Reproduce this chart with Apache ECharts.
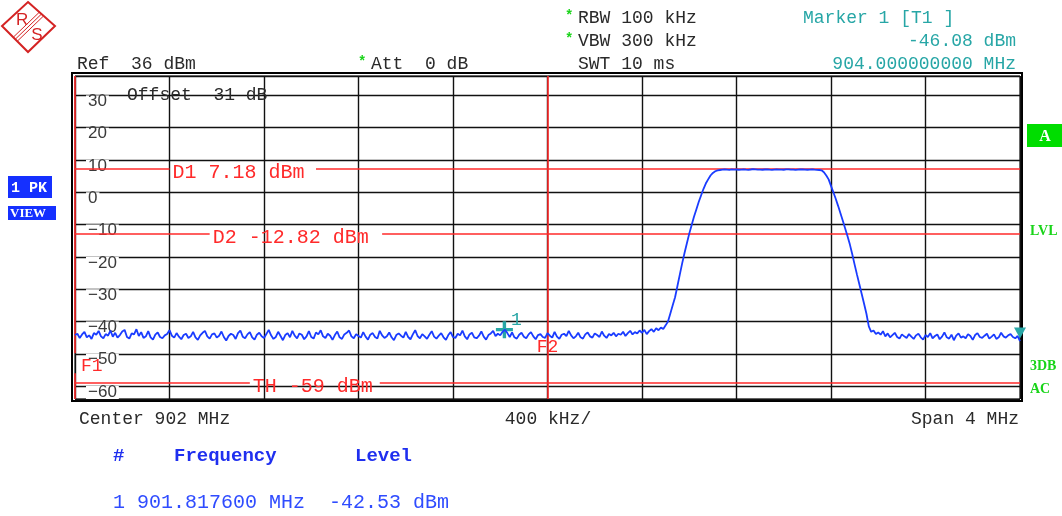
<!DOCTYPE html>
<html><head><meta charset="utf-8">
<script src="https://cdn.jsdelivr.net/npm/echarts@6/dist/echarts.min.js"></script>
<style>html,body{margin:0;padding:0;background:#fff}#c{width:1062px;height:516px}</style>
</head><body><div id="c"></div>
<script>
// ---- sweep grid (900 MHz .. 904 MHz, 401 points) ----
const startFreq = 900;
const stepMHz = 0.01;
// ---- trace levels in dBm ----
const noiseLeft = [
-44.2,-43.8,-45.1,-44.0,-43.2,-44.9,-44.3,-45.4,-43.6,-44.1,
-42.9,-44.6,-45.2,-43.9,-44.4,-42.8,-44.7,-43.5,-45.0,-44.2,
-43.1,-42.6,-44.8,-45.3,-43.7,-44.0,-42.4,-44.5,-43.3,-45.1,
-44.6,-43.0,-44.9,-45.6,-44.1,-43.4,-44.8,-45.2,-44.3,-43.9,
-42.7,-44.4,-45.0,-43.6,-44.7,-45.5,-44.2,-43.8,-45.1,-44.6,
-43.2,-44.9,-45.7,-44.3,-43.5,-42.9,-44.6,-45.3,-44.0,-43.7,
-45.0,-44.4,-43.1,-44.8,-45.9,-44.5,-43.8,-44.2,-45.4,-43.6,
-42.8,-44.7,-45.2,-44.0,-43.3,-44.9,-45.6,-44.1,-43.5,-44.6,
-45.1,-43.9,-42.6,-44.3,-45.4,-44.8,-43.2,-44.5,-45.8,-44.2,
-43.6,-44.9,-42.9,-44.4,-45.2,-43.7,-44.1,-45.5,-44.6,-43.0,
-44.8,-45.3,-43.4,-44.0,-42.7,-44.6,-45.1,-43.8,-44.4,-45.7,
-44.2,-43.1,-44.9,-45.4,-44.0,-43.5,-42.8,-44.6,-45.2,-43.9,
-44.5,-45.0,-43.3,-44.7,-45.6,-44.1,-43.6,-44.8,-45.3,-42.9,
-44.3,-45.1,-44.6,-43.4,-44.9,-45.8,-44.2,-43.7,-44.4,-45.0,
-43.2,-44.8,-45.5,-44.0,-42.7,-44.5,-45.2,-43.9,-44.6,-45.4,
-44.1,-43.0,-44.7,-45.3,-44.4,-43.6,-44.9,-45.7,-44.2,-43.3,
-44.8,-45.1,-43.8,-44.3,-42.8,-44.6,-45.5,-44.0,-43.5,-44.9,
-45.2,-44.4,-43.1,-44.7,-45.6,-44.2,-43.7,-42.9,-44.5,-43.8,
-44.3,-43.2,-42.53,-43.6,-44.8,-43.4,-44.9,-45.3,-44.1,-43.5,
-44.7,-45.2,-44.0,-43.3,-44.6,-45.5,-44.2,-43.9,-44.8,-45.1,
-43.6,-44.4,-45.0,-43.2,-44.7,-45.4,-44.1,-43.8,-44.5,-42.9,
-44.3,-45.2,-44.6,-43.5,-44.9,-45.3,-44.0,-43.4,-44.6,-45.0,
-43.7,-44.2,-44.8,-43.1,-44.4,-45.1,-43.9,-44.3,-43.5,-44.6,
-43.8,-44.1,-43.2,-44.5,-43.6,-42.9,-44.0,-43.3,-43.7,-42.8,
-43.5,-42.6,-43.9,-43.0,-42.4,-43.2,-42.1,-42.7,-41.9,-42.3,
-41.2
];
const rampUp = [-40.0,-37.5,-35.0,-32.5,-29.0,-25.5,-22.0,-18.8,-15.8,-12.8,-10.2,-7.6,-5.3,-3.0,-1.0,1.0,2.7,4.0,5.2,6.0,6.5,6.8];
const plateau = [
6.9,7.0,7.05,7.0,6.95,7.1,7.0,7.05,6.98,7.02,
7.1,7.0,6.95,7.05,7.18,7.1,7.0,7.02,6.97,7.05,
7.08,7.0,6.96,7.04,7.1,7.02,7.0,6.98,7.06,7.1,
7.03,7.0,6.95,7.02,7.08,7.05,7.0,6.98,7.04,7.1,
7.02,6.96,6.9
];
const rampDown = [6.8,6.2,5.2,4.0,2.0,0.0,-2.0,-4.2,-6.5,-8.8,-11.2,-13.6,-16.2,-19.2,-22.4,-25.5,-28.5,-31.5,-34.5,-37.6,-41.5];
const noiseRight = [
-43.2,-42.8,-43.9,-43.4,-44.1,-43.0,-44.6,-43.7,-44.9,-44.2,
-43.5,-44.8,-45.3,-44.0,-44.6,-45.1,-43.9,-44.7,-45.4,-44.3,
-43.8,-44.9,-45.6,-44.2,-44.8,-43.6,-45.2,-44.5,-44.0,-45.5,
-44.7,-43.4,-44.9,-45.3,-44.1,-45.8,-44.4,-43.7,-45.0,-44.6,
-45.2,-43.9,-44.5,-45.7,-44.2,-43.6,-44.8,-45.1,-44.4,-43.8,
-45.3,-44.7,-44.0,-45.4,-44.9,-43.5,-44.6,-45.0,-44.3,-43.9,
-44.8,-45.2,-44.5,-46.08
];
// ---- display lines ----
const dLineNames = ['D1 7.18 dBm', 'D2 -12.82 dBm', 'TH -59 dBm'];
const dLineValues = [7.18, -12.82, -59];
const dLabelFrom = [900.40, 900.57, 900.74];   // where each line breaks for its label (MHz)
const dLabelTo = [901.02, 901.30, 901.29];
const f1Freq = 900, f2Freq = 902;
const marker1 = [901.8176, -42.53];
const markerT1 = [904, -46.08];
const yMin = -64, yMax = 36;

const levels = [].concat(noiseLeft, rampUp, plateau, rampDown, noiseRight);
const traceData = levels.map((v, i) => [startFreq + i * stepMHz, v]);

const RED = '#ff2a2a', TEAL = '#27a6a6', BLUE = '#1a3cff', GREEN = '#19d419';
const MONO = 'Liberation Mono';

const dLines = [];
dLineNames.forEach((name, k) => {
  const v = dLineValues[k];
  dLines.push([{coord: [startFreq, v], label: {show: true, position: 'end', distance: 3, formatter: name,
      color: RED, fontFamily: MONO, fontSize: 20, offset: [0, 4]}},
    {coord: [dLabelFrom[k], v]}]);
  dLines.push([{coord: [dLabelTo[k], v], label: {show: false}}, {coord: [904, v]}]);
});
dLines.push([{coord: [f1Freq, yMax], label: {show: false}}, {coord: [f1Freq, -49.8]}]);
dLines.push([{coord: [f1Freq, -56], label: {show: false}}, {coord: [f1Freq, yMin]}]);
dLines.push([{coord: [f2Freq, yMax], label: {show: false}}, {coord: [f2Freq, yMin]}]);

function txt(x, y, text, o) {
  o = o || {};
  return {type: 'text', x: x, y: y, z: 50, style: {
    text: text, fill: o.fill || '#2a2a2a',
    font: (o.weight || 'normal') + ' ' + (o.size || 18) + 'px "' + (o.family || MONO) + '"',
    align: o.align || 'left', verticalAlign: 'middle', textAlign: o.align || 'left', textVerticalAlign: 'middle'}};
}

const graphics = [
  // R&S logo
  {type: 'polygon', z: 50, shape: {points: [[28, 2], [55, 26], [28, 52], [2, 26]]}, style: {fill: '#fff', stroke: '#d42323', lineWidth: 2}},
  {type: 'line', z: 51, shape: {x1: 41.5, y1: 14, x2: 15.5, y2: 39}, style: {stroke: '#d42323', lineWidth: 1}},
  {type: 'line', z: 51, shape: {x1: 43.5, y1: 16, x2: 17.5, y2: 41}, style: {stroke: '#d42323', lineWidth: 1}},
  {type: 'line', z: 51, shape: {x1: 39.5, y1: 12, x2: 13.5, y2: 37}, style: {stroke: '#d42323', lineWidth: 1}},
  txt(16, 20, 'R', {fill: '#d42323', size: 17, family: 'Liberation Sans'}),
  txt(37, 35, 'S', {fill: '#d42323', size: 17, family: 'Liberation Sans', align: 'center'}),
  // header
  txt(77, 64, 'Ref  36 dBm'),
  txt(358, 62, '*', {fill: GREEN, size: 14, weight: 'bold'}),
  txt(371, 64, 'Att  0 dB'),
  txt(565, 16, '*', {fill: GREEN, size: 14, weight: 'bold'}),
  txt(578, 18, 'RBW 100 kHz'),
  txt(565, 39, '*', {fill: GREEN, size: 14, weight: 'bold'}),
  txt(578, 41, 'VBW 300 kHz'),
  txt(578, 64, 'SWT 10 ms'),
  txt(803, 18, 'Marker 1 [T1 ]', {fill: TEAL}),
  txt(1016, 41, '-46.08 dBm', {fill: TEAL, align: 'right'}),
  txt(1016, 64, '904.000000000 MHz', {fill: TEAL, align: 'right'}),
  txt(127, 95, 'Offset  31 dB'),
  // left side boxes
  {type: 'rect', z: 50, shape: {x: 8, y: 176, width: 44, height: 22}, style: {fill: '#1530ff'}},
  txt(11, 188, '1 PK', {fill: '#fff', size: 15, weight: 'bold'}),
  {type: 'rect', z: 50, shape: {x: 8, y: 206, width: 48, height: 14}, style: {fill: '#1530ff'}},
  txt(10, 214, 'VIEW', {fill: '#fff', size: 13, weight: 'bold', family: 'Liberation Serif'}),
  // right side
  {type: 'rect', z: 50, shape: {x: 1027, y: 124, width: 35, height: 23}, style: {fill: '#00dd00'}},
  txt(1045, 137, 'A', {fill: '#fff', size: 16, weight: 'bold', family: 'Liberation Serif', align: 'center'}),
  txt(1030, 231, 'LVL', {fill: GREEN, size: 14, weight: 'bold', family: 'Liberation Serif'}),
  txt(1030, 366, '3DB', {fill: GREEN, size: 14, weight: 'bold', family: 'Liberation Serif'}),
  txt(1030, 389, 'AC', {fill: GREEN, size: 14, weight: 'bold', family: 'Liberation Serif'}),
  // bottom
  txt(79, 419, 'Center 902 MHz'),
  txt(548, 419, '400 kHz/', {align: 'center'}),
  txt(1019, 419, 'Span 4 MHz', {align: 'right'}),
  txt(113, 456, '#', {fill: '#1f2fef', size: 19, weight: 'bold'}),
  txt(174, 456, 'Frequency', {fill: '#1f2fef', size: 19, weight: 'bold'}),
  txt(355, 456, 'Level', {fill: '#1f2fef', size: 19, weight: 'bold'}),
  txt(113, 503, '1 901.817600 MHz  -42.53 dBm', {fill: '#2f4cff', size: 20})
];

const chart = echarts.init(document.getElementById('c'), null, {renderer: 'canvas'});
chart.setOption({
  animation: false,
  backgroundColor: '#fff',
  grid: [
    {left: 75, top: 76, width: 945, height: 323, show: true, borderColor: '#000', borderWidth: 1, backgroundColor: 'transparent'},
    {left: 72, top: 73, width: 950, height: 328, show: true, borderColor: '#000', borderWidth: 2, backgroundColor: 'transparent'}
  ],
  xAxis: [
    {gridIndex: 0, type: 'value', min: 900, max: 904, interval: 0.4,
      axisLine: {show: false}, axisTick: {show: false}, axisLabel: {show: false},
      splitLine: {show: true, lineStyle: {color: '#111', width: 1.4}}},
    {gridIndex: 1, type: 'value', min: 0, max: 1, show: false, splitLine: {show: false}}
  ],
  yAxis: [
    {gridIndex: 0, type: 'value', min: yMin, max: yMax, splitNumber: 10,
      axisLine: {show: false}, axisTick: {show: false},
      splitLine: {show: true, lineStyle: {color: '#111', width: 1.4}},
      axisLabel: {inside: true, margin: 11, showMinLabel: false, showMaxLabel: false,
        color: '#3a3a3a', fontFamily: 'Liberation Sans', fontSize: 17, verticalAlign: 'top',
        lineHeight: 12, backgroundColor: '#fff', padding: [0, 2, 1, 2],
        formatter: v => String(v).replace('-', '\u2212')}},
    {gridIndex: 1, type: 'value', min: 0, max: 1, show: false, splitLine: {show: false}}
  ],
  series: [
    {type: 'line', xAxisIndex: 0, yAxisIndex: 0, data: [], z: 3, silent: true,
      markLine: {silent: true, symbol: ['none', 'none'], animation: false,
        lineStyle: {color: RED, width: 1.6, type: 'solid'}, label: {show: false}, data: dLines},
      markPoint: {silent: true, symbol: 'circle', symbolSize: 0, animation: false, data: [
        {coord: [f1Freq, -54], label: {show: true, formatter: 'F1', position: 'right', distance: 6, color: RED, fontFamily: MONO, fontSize: 18}},
        {coord: [f2Freq, -47.9], label: {show: true, formatter: 'F2', position: 'inside', color: RED, fontFamily: MONO, fontSize: 18}}
      ]}},
    {type: 'line', xAxisIndex: 0, yAxisIndex: 0, data: traceData, z: 5, showSymbol: false, silent: true,
      lineStyle: {color: BLUE, width: 1.8}, itemStyle: {color: BLUE},
      markPoint: {silent: true, animation: false, data: [
        {coord: marker1, symbol: 'path://M4,0H6V4H10V6H6V10H4V6H0V4H4Z', symbolSize: 17,
          itemStyle: {color: TEAL},
          label: {show: true, formatter: '1', position: [15, -10], color: TEAL, fontFamily: MONO, fontSize: 18}},
        {coord: markerT1, symbol: 'triangle', symbolRotate: 180, symbolSize: [12, 11], symbolOffset: [0, -8],
          itemStyle: {color: TEAL}, label: {show: false}}
      ]}}
  ],
  graphic: graphics
});
</script></body></html>
